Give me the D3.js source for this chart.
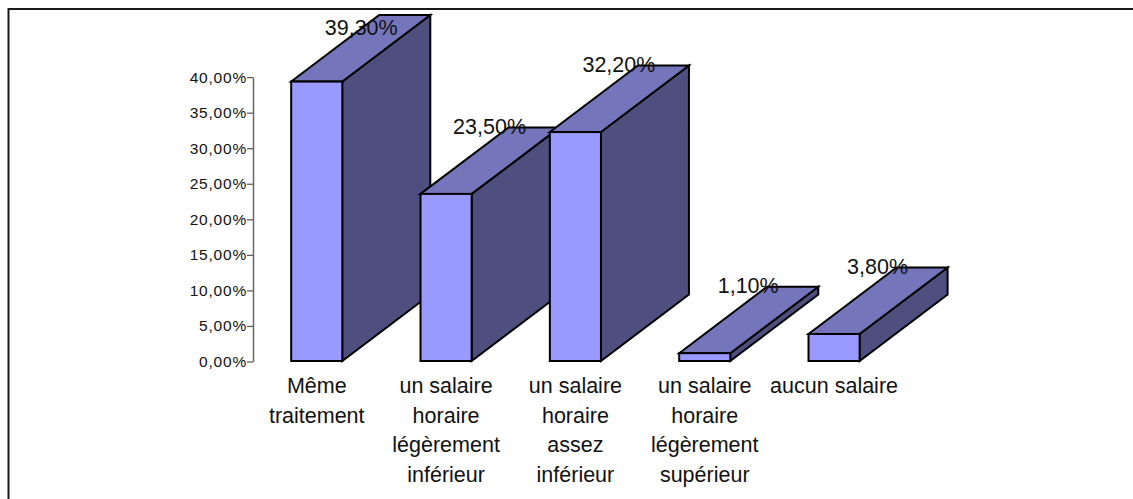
<!DOCTYPE html>
<html><head><meta charset="utf-8">
<script src="https://cdnjs.cloudflare.com/ajax/libs/d3/7.8.5/d3.min.js"></script>
<style>html,body{margin:0;padding:0;background:#fff}svg{display:block}text{font-family:"Liberation Sans",Arial,sans-serif;fill:#111}</style>
</head><body><svg id="c" width="1133" height="499"></svg>
<script>
const categories = ["Même traitement","un salaire horaire légèrement inférieur","un salaire horaire assez inférieur","un salaire horaire légèrement supérieur","aucun salaire"];
const labelLines = [["Même","traitement"],["un salaire","horaire","légèrement","inférieur"],["un salaire","horaire","assez","inférieur"],["un salaire","horaire","légèrement","supérieur"],["aucun salaire"]];
const values = [39.3,23.5,32.2,1.1,3.8];
const valueLabels = ["39,30%","23,50%","32,20%","1,10%","3,80%"];
const yTicks = [0,5,10,15,20,25,30,35,40];
const fmt = d => d.toFixed(2).replace(".",",")+"%";

const svg = d3.select("#c");
svg.append("path").attr("d","M8.5,499V9H1133").attr("fill","none").attr("stroke","#1a1a1a").attr("stroke-width",2);
const y = d3.scaleLinear().domain([0,40]).range([361,76.6]);
const x = d3.scaleBand().domain(categories).range([252.4,898.4]).paddingInner(0.605).paddingOuter(0.3);
const dx = 88, dy = -66.5;

const axis = d3.axisLeft(y).tickValues(yTicks).tickFormat(fmt).tickSize(6).tickSizeOuter(0);
const ag = svg.append("g").attr("transform","translate(253,0.5)").call(axis);
ag.selectAll(".domain").attr("stroke","#666").attr("stroke-width",1.5);
ag.selectAll(".tick line").attr("stroke","#555").attr("stroke-width",1.2);
ag.selectAll(".tick text").attr("x",-6).attr("font-size",15.5).attr("letter-spacing",0.8).attr("fill","#222");

const bars = svg.append("g").selectAll("g").data(categories).join("g");
const st = s => s.attr("stroke","#000").attr("stroke-width",2).attr("stroke-linejoin","miter");
bars.each(function(c,i){
  const g = d3.select(this), x0 = x(c), x1 = x0 + x.bandwidth(), yt = y(values[i]), yb = y(0);
  g.append("path").attr("d",d3.line()([[x1,yt],[x1+dx,yt+dy],[x1+dx,yb+dy],[x1,yb]])+"Z").attr("fill","#4f4f7f").call(st);
  g.append("path").attr("d",d3.line()([[x0,yt],[x0+dx,yt+dy],[x1+dx,yt+dy],[x1,yt]])+"Z").attr("fill","#7575bb").call(st);
  g.append("rect").attr("x",x0).attr("y",yt).attr("width",x.bandwidth()).attr("height",yb-yt).attr("fill","#9999ff").call(st);
});
bars.append("text").attr("text-anchor","middle").attr("font-size",21.5)
  .attr("x",(c,i)=>x(c)+x.bandwidth()/2+(i===0?44.5:43.5)).attr("y",(c,i)=>Math.max(y(values[i])+dy+6.5,35)).text((c,i)=>valueLabels[i]);
const cats = svg.append("g").selectAll("text").data(categories).join("text")
  .attr("text-anchor","middle").attr("font-size",21.5)
  .attr("transform",c=>`translate(${x(c)+x.bandwidth()/2},0)`);
cats.each(function(c,i){
  d3.select(this).selectAll("tspan").data(labelLines[i]).join("tspan").attr("x",0).attr("y",(l,j)=>393+j*29.6).text(l=>l);
});
</script></body></html>
